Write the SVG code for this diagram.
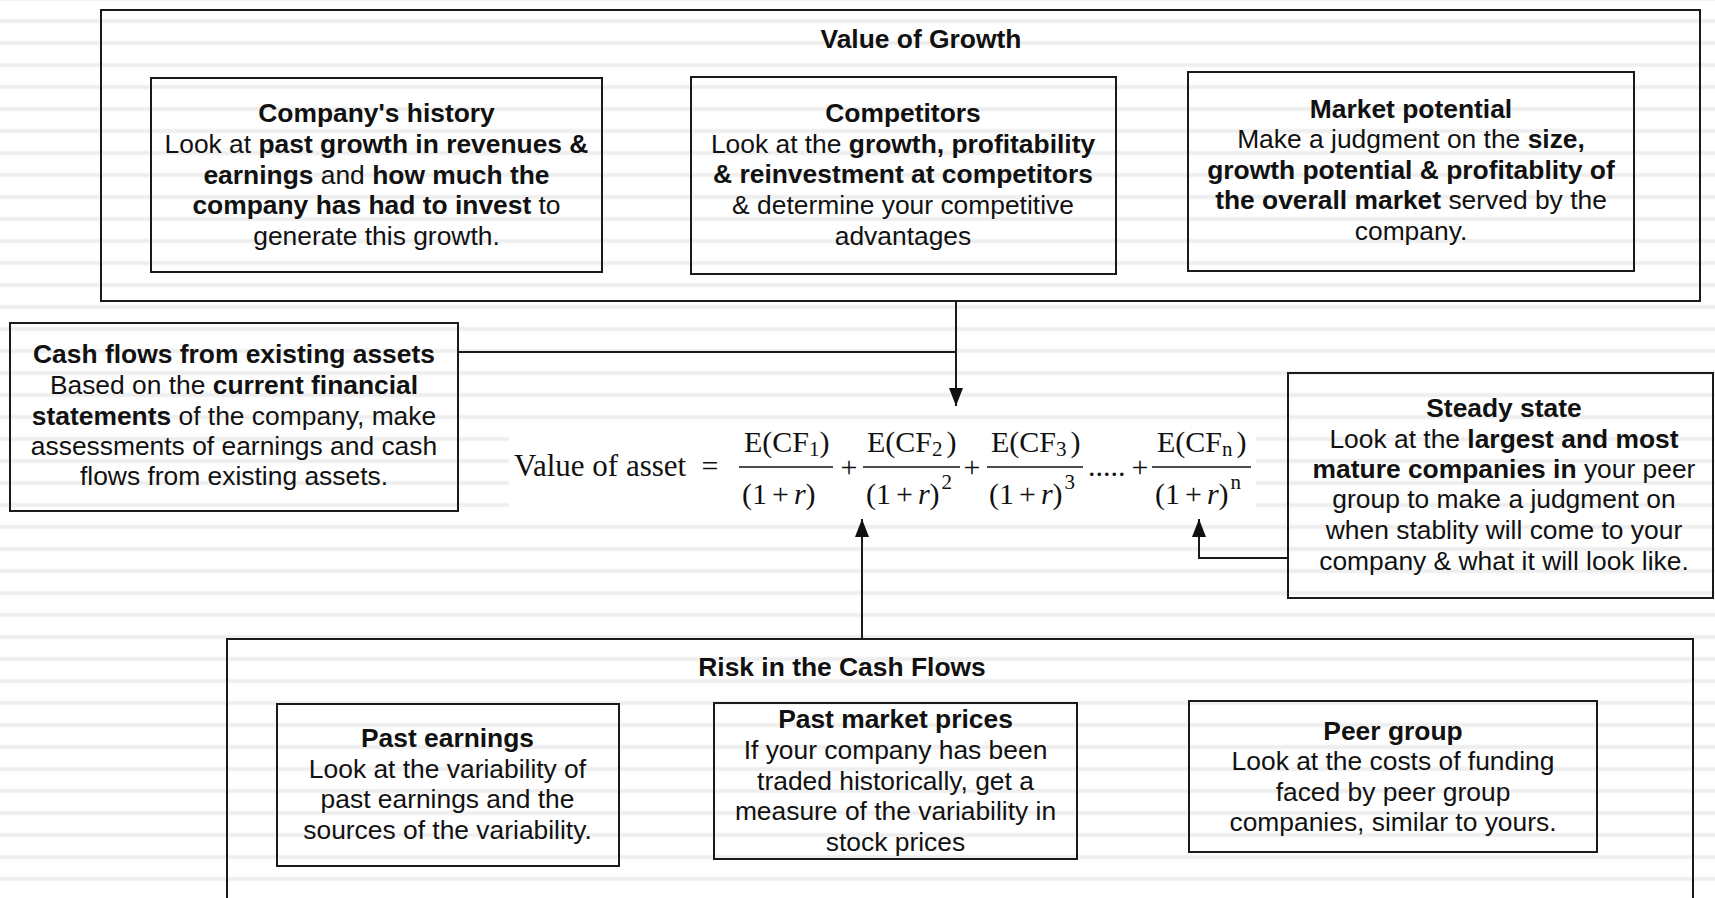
<svg xmlns="http://www.w3.org/2000/svg" width="1715" height="898" viewBox="0 0 1715 898">
<defs>
<pattern id="stripes" patternUnits="userSpaceOnUse" x="0" y="10" width="1715" height="22">
<rect x="0" y="0" width="1715" height="22" fill="#ffffff"/>
<rect x="0" y="8.5" width="1715" height="5" fill="#f7f7f7"/>
<rect x="0" y="9.5" width="1715" height="3" fill="#eeeeee"/>
</pattern>
<marker id="arr" markerUnits="userSpaceOnUse" viewBox="0 0 18 14" refX="18" refY="7" markerWidth="18" markerHeight="14" orient="auto">
<path d="M0,0 L18,7 L0,14 z" fill="#111"/>
</marker>
<style>
.box{fill:none;stroke:#1a1a1a;stroke-width:2}
.t{font-family:"Liberation Sans",Arial,Helvetica,sans-serif;font-size:26.4px;fill:#111;text-anchor:middle}
.b{font-weight:bold}
.m{font-family:"Liberation Serif","Times New Roman",serif;font-size:30px;fill:#111}
.s{font-size:21px}
.conn{stroke:#1a1a1a;stroke-width:2;fill:none}
</style>
</defs>
<rect x="0" y="0" width="1715" height="898" fill="url(#stripes)"/>

<g id="value-of-growth">
<rect class="box" x="101" y="10" width="1599" height="291"/>
<text class="t b" x="921" y="48">Value of Growth</text>
</g>

<g id="company-history">
<rect class="box" x="151" y="78" width="451" height="194"/>
<text class="t b" x="376.5" y="122">Company's history</text>
<text class="t" x="376.5" y="153">Look at <tspan class="b">past growth in revenues &amp;</tspan></text>
<text class="t" x="376.5" y="184"><tspan class="b">earnings</tspan> and <tspan class="b">how much the</tspan></text>
<text class="t" x="376.5" y="214"><tspan class="b">company has had to invest</tspan> to</text>
<text class="t" x="376.5" y="245">generate this growth.</text>
</g>

<g id="competitors">
<rect class="box" x="691" y="77" width="425" height="197"/>
<text class="t b" x="903" y="122">Competitors</text>
<text class="t" x="903" y="153">Look at the <tspan class="b">growth, profitability</tspan></text>
<text class="t b" x="903" y="183">&amp; reinvestment at competitors</text>
<text class="t" x="903" y="214">&amp; determine your competitive</text>
<text class="t" x="903" y="245">advantages</text>
</g>

<g id="market-potential">
<rect class="box" x="1188" y="72" width="446" height="199"/>
<text class="t b" x="1411" y="118">Market potential</text>
<text class="t" x="1411" y="148">Make a judgment on the <tspan class="b">size,</tspan></text>
<text class="t b" x="1411" y="179">growth potential &amp; profitablity of</text>
<text class="t" x="1411" y="209"><tspan class="b">the overall market</tspan> served by the</text>
<text class="t" x="1411" y="240">company.</text>
</g>

<g id="cash-flows-existing">
<rect class="box" x="10" y="323" width="448" height="188"/>
<text class="t b" x="234" y="363">Cash flows from existing assets</text>
<text class="t" x="234" y="394">Based on the <tspan class="b">current financial</tspan></text>
<text class="t" x="234" y="425"><tspan class="b">statements</tspan> of the company, make</text>
<text class="t" x="234" y="455">assessments of earnings and cash</text>
<text class="t" x="234" y="485">flows from existing assets.</text>
</g>

<g id="formula">
<rect x="509" y="421" width="747" height="94" fill="#ffffff"/>
<text class="m" x="514" y="476" style="font-size:31px">Value of asset</text>
<text class="m" x="710" y="476" text-anchor="middle">=</text>
<line x1="739" y1="467" x2="833" y2="467" stroke="#111" stroke-width="1.6"/>
<line x1="863" y1="467" x2="960" y2="467" stroke="#111" stroke-width="1.6"/>
<line x1="987" y1="467" x2="1083" y2="467" stroke="#111" stroke-width="1.6"/>
<line x1="1152" y1="467" x2="1251" y2="467" stroke="#111" stroke-width="1.6"/>
<text class="m" x="744" y="452">E(CF<tspan class="s" dy="4">1</tspan><tspan dy="-4">)</tspan></text>
<text class="m" x="867" y="452">E(CF<tspan class="s" dy="4">2</tspan><tspan dx="4" dy="-4">)</tspan></text>
<text class="m" x="991" y="452">E(CF<tspan class="s" dy="4">3</tspan><tspan dx="4" dy="-4">)</tspan></text>
<text class="m" x="1157" y="452">E(CF<tspan class="s" dy="4">n</tspan><tspan dx="4" dy="-4">)</tspan></text>
<text class="m" x="742" y="504">(1<tspan dx="5">+</tspan><tspan dx="5" font-style="italic">r</tspan>)</text>
<text class="m" x="866" y="504">(1<tspan dx="5">+</tspan><tspan dx="5" font-style="italic">r</tspan>)<tspan class="s" dx="2" dy="-15">2</tspan></text>
<text class="m" x="989" y="504">(1<tspan dx="5">+</tspan><tspan dx="5" font-style="italic">r</tspan>)<tspan class="s" dx="2" dy="-15">3</tspan></text>
<text class="m" x="1155" y="504">(1<tspan dx="5">+</tspan><tspan dx="5" font-style="italic">r</tspan>)<tspan class="s" dx="2" dy="-15">n</tspan></text>
<text class="m" x="849" y="477" text-anchor="middle">+</text>
<text class="m" x="972" y="477" text-anchor="middle">+</text>
<text class="m" x="1088" y="476">.....</text>
<text class="m" x="1140" y="477" text-anchor="middle">+</text>
</g>

<g id="steady-state">
<rect class="box" x="1288" y="373" width="425" height="225"/>
<text class="t b" x="1504" y="417">Steady state</text>
<text class="t" x="1504" y="448">Look at the <tspan class="b">largest and most</tspan></text>
<text class="t" x="1504" y="478"><tspan class="b">mature companies in</tspan> your peer</text>
<text class="t" x="1504" y="508">group to make a judgment on</text>
<text class="t" x="1504" y="539">when stablity will come to your</text>
<text class="t" x="1504" y="570">company &amp; what it will look like.</text>
</g>

<g id="risk-in-cash-flows">
<rect class="box" x="227" y="639" width="1466" height="270"/>
<text class="t b" x="842" y="676">Risk in the Cash Flows</text>
</g>

<g id="past-earnings">
<rect class="box" x="277" y="704" width="342" height="162"/>
<text class="t b" x="447.5" y="747">Past earnings</text>
<text class="t" x="447.5" y="778">Look at the variability of</text>
<text class="t" x="447.5" y="808">past earnings and the</text>
<text class="t" x="447.5" y="839">sources of the variability.</text>
</g>

<g id="past-market-prices">
<rect class="box" x="714" y="703" width="363" height="156"/>
<text class="t b" x="895.5" y="728">Past market prices</text>
<text class="t" x="895.5" y="759">If your company has been</text>
<text class="t" x="895.5" y="790">traded historically, get a</text>
<text class="t" x="895.5" y="820">measure of the variability in</text>
<text class="t" x="895.5" y="851">stock prices</text>
</g>

<g id="peer-group">
<rect class="box" x="1189" y="701" width="408" height="151"/>
<text class="t b" x="1393" y="740">Peer group</text>
<text class="t" x="1393" y="770">Look at the costs of funding</text>
<text class="t" x="1393" y="801">faced by peer group</text>
<text class="t" x="1393" y="831">companies, similar to yours.</text>
</g>

<g id="connectors">
<path class="conn" d="M956,301 V406" marker-end="url(#arr)"/>
<path class="conn" d="M458,352 H956"/>
<path class="conn" d="M862,639 V519" marker-end="url(#arr)"/>
<path class="conn" d="M1288,558 H1199 V519" marker-end="url(#arr)"/>
</g>
</svg>
